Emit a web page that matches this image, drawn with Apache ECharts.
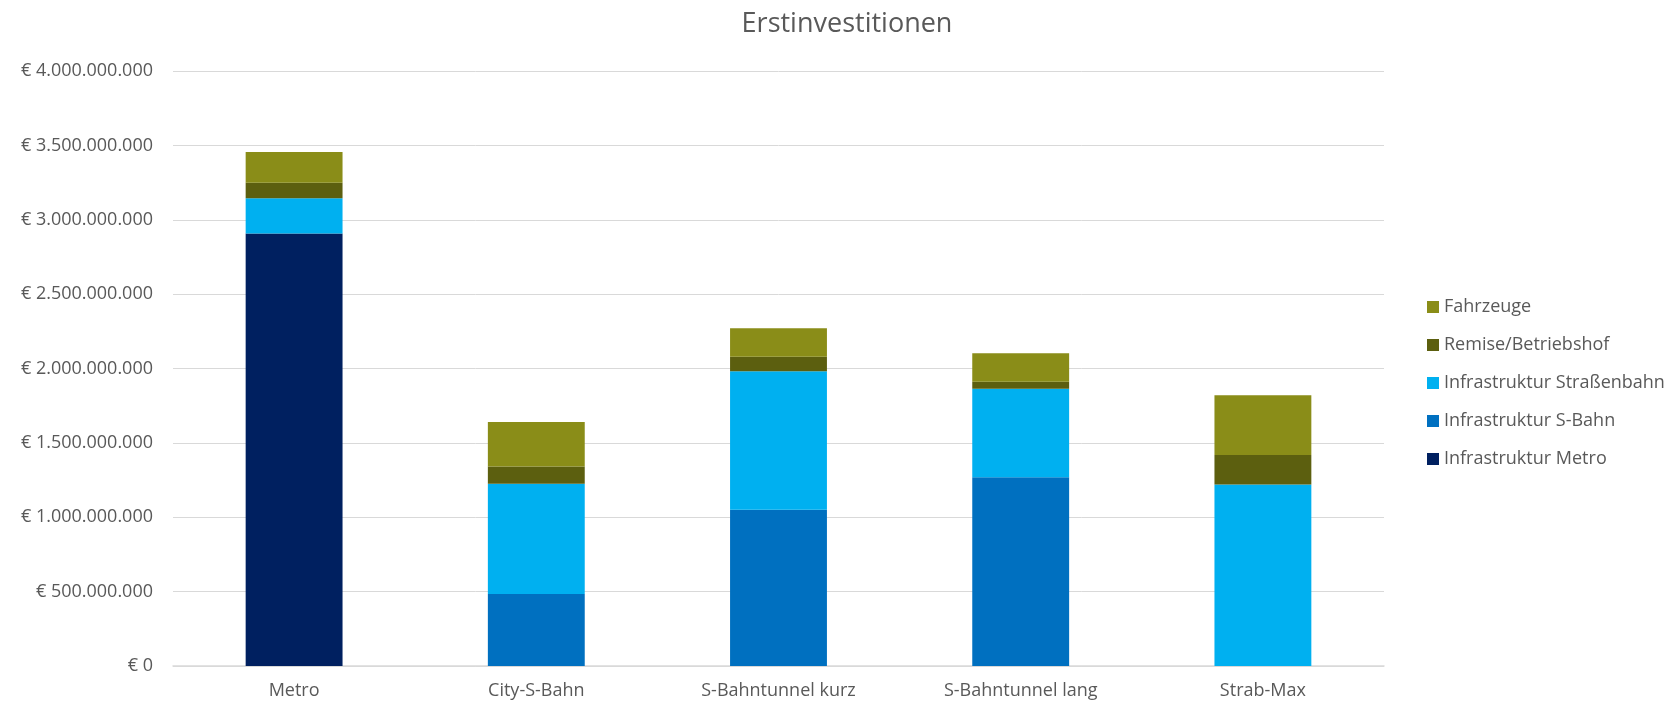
<!DOCTYPE html>
<html>
<head>
<meta charset="utf-8">
<title>Erstinvestitionen</title>
<script src="https://cdn.jsdelivr.net/npm/echarts@6/dist/echarts.min.js"></script>
<style>
  html, body { margin: 0; padding: 0; background: #fff; }
  #chart { width: 1667px; height: 706px; }
</style>
</head>
<body>
<div id="chart"></div>
<script>
// Kategorien (Varianten)
var categories = ['Metro', 'City-S-Bahn', 'S-Bahntunnel kurz', 'S-Bahntunnel lang', 'Strab-Max'];

// Werte in Euro
var infraMetro   = [2908000000, 0, 0, 0, 0];
var infraSBahn   = [0, 484000000, 1050000000, 1269000000, 0];
var infraStrab   = [237000000, 741000000, 931000000, 595000000, 1220000000];
var remise       = [103000000, 117000000, 98000000, 47000000, 199000000];
var fahrzeuge    = [208000000, 298000000, 191000000, 191000000, 401000000];

var seriesNames = ['Infrastruktur Metro', 'Infrastruktur S-Bahn', 'Infrastruktur Straßenbahn', 'Remise/Betriebshof', 'Fahrzeuge'];
var seriesData = [infraMetro, infraSBahn, infraStrab, remise, fahrzeuge];
var seriesColors = ['#002060', '#0070C0', '#00B0F0', '#5C5F0F', '#8A8D18'];

var textColor = '#595959';
var fontFamily = '"Open Sans", sans-serif';

// 4000000000 -> "€ 4.000.000.000"
function euro(v) {
    return '€ ' + String(v).replace(/\B(?=(\d{3})+(?!\d))/g, '.');
}

var myChart = echarts.init(document.getElementById('chart'));

var series = seriesNames.map(function (name, i) {
    return {
        name: name,
        type: 'bar',
        stack: 'total',
        barWidth: '40%',
        data: seriesData[i],
        itemStyle: { color: seriesColors[i] },
        emphasis: { disabled: true }
    };
});

var option = {
    animation: false,
    title: {
        text: 'Erstinvestitionen',
        left: 842,
        top: 6,
        textAlign: 'center',
        textStyle: {
            color: textColor,
            fontFamily: fontFamily,
            fontSize: 27,
            fontWeight: 'normal'
        }
    },
    grid: {
        left: 173,
        right: 283,
        top: 71,
        bottom: 40
    },
    legend: {
        orient: 'vertical',
        left: 1422,
        top: 293,
        itemWidth: 12,
        itemHeight: 12,
        itemGap: 20,
        icon: 'rect',
        data: ['Fahrzeuge', 'Remise/Betriebshof', 'Infrastruktur Straßenbahn', 'Infrastruktur S-Bahn', 'Infrastruktur Metro'],
        textStyle: {
            color: textColor,
            fontFamily: fontFamily,
            fontSize: 18
        }
    },
    xAxis: {
        type: 'category',
        data: categories,
        axisTick: { show: false },
        axisLine: {
            lineStyle: { color: '#d9d9d9', width: 1.5 }
        },
        axisLabel: {
            color: textColor,
            fontFamily: fontFamily,
            fontSize: 18,
            margin: 16
        }
    },
    yAxis: {
        type: 'value',
        min: 0,
        max: 4000000000,
        interval: 500000000,
        axisLine: { show: false },
        axisTick: { show: false },
        splitLine: {
            lineStyle: { color: '#d9d9d9', width: 1 }
        },
        axisLabel: {
            color: textColor,
            fontFamily: fontFamily,
            fontSize: 18,
            margin: 20,
            formatter: euro
        }
    },
    series: series
};

myChart.setOption(option);
</script>
</body>
</html>
